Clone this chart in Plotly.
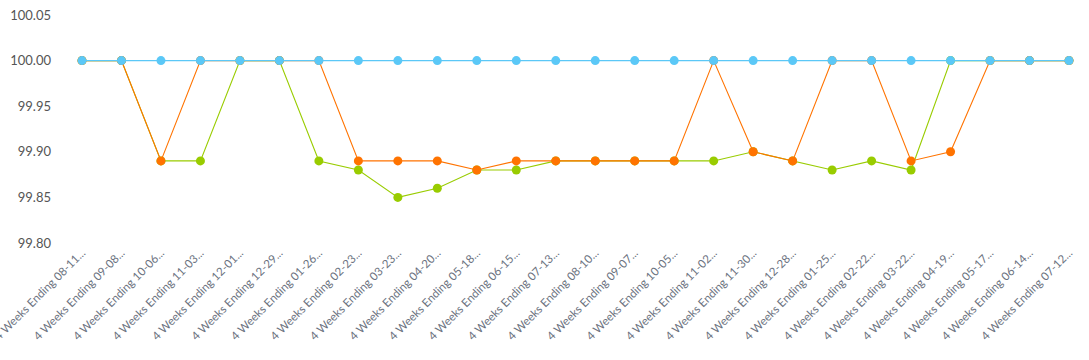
import plotly.graph_objects as go

dates = ["08-11", "09-08", "10-06", "11-03", "12-01", "12-29", "01-26", "02-23", "03-23",
         "04-20", "05-18", "06-15", "07-13", "08-10", "09-07", "10-05", "11-02", "11-30",
         "12-28", "01-25", "02-22", "03-22", "04-19", "05-17", "06-14", "07-12"]
categories = ["4 Weeks Ending " + d + "..." for d in dates]

blue_values = [100.00] * 26
orange_values = [100.00, 100.00, 99.89, 100.00, 100.00, 100.00, 100.00, 99.89, 99.89,
                 99.89, 99.88, 99.89, 99.89, 99.89, 99.89, 99.89, 100.00, 99.90,
                 99.89, 100.00, 100.00, 99.89, 99.90, 100.00, 100.00, 100.00]
green_values = [100.00, 100.00, 99.89, 99.89, 100.00, 100.00, 99.89, 99.88, 99.85,
                99.86, 99.88, 99.88, 99.89, 99.89, 99.89, 99.89, 99.89, 99.90,
                99.89, 99.88, 99.89, 99.88, 100.00, 100.00, 100.00, 100.00]

tick_vals = [99.80, 99.85, 99.90, 99.95, 100.00, 100.05]

fig = go.Figure()
for vals, color in [(green_values, "#99CC00"), (orange_values, "#FF7300"), (blue_values, "#5BC8F7")]:
    fig.add_trace(go.Scatter(
        x=list(range(len(categories))), y=vals, mode="lines+markers",
        line=dict(color=color, width=1.1),
        marker=dict(color=color, size=9),
        cliponaxis=False, showlegend=False, hoverinfo="y"))

fig.update_layout(
    width=1089, height=360,
    margin=dict(l=82, r=20, t=15, b=117, autoexpand=False),
    paper_bgcolor="white", plot_bgcolor="white",
    font=dict(family="Lato, Open Sans, sans-serif", color="#666666"),
)
fig.update_xaxes(
    range=[0, 25], tickmode="array", tickvals=list(range(len(categories))),
    ticktext=categories, tickangle=-45, tickfont=dict(size=11.5, color="#6b7280"),
    showgrid=False, zeroline=False, showline=False, ticks="", automargin=False,
    ticklabeloverflow="allow")
fig.update_yaxes(
    range=[99.80, 100.05], tickmode="array", tickvals=tick_vals,
    tickformat=".2f", tickfont=dict(size=13, color="#555555"),
    showgrid=False, zeroline=False, showline=False, ticks="", ticklabelstandoff=30,
    automargin=False)

fig.write_html("out.html", config={"displayModeBar": False},
               post_script="document.body.style.margin='0';")
